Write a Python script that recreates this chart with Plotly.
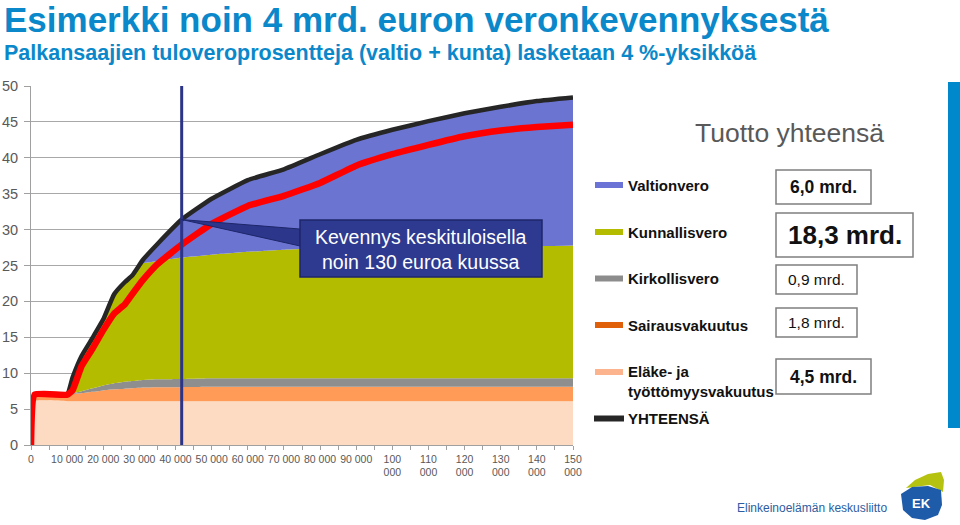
import numpy as np
import plotly.graph_objects as go

# Income (EUR / year) grid and tax components (% of income)
INCOME = [0, 1000, 10000, 11500, 14000, 17000, 20000, 23000, 26000, 28000, 31000, 35000, 41700,
          50000, 60000, 70000, 80000, 90000, 100000, 110000, 120000, 130000, 140000, 150000]
ELAKE = [0, 6.1, 6.1, 6.1, 6.1, 6.1, 6.1, 6.1, 6.1, 6.1, 6.1, 6.1, 6.1,
         6.1, 6.1, 6.1, 6.1, 6.1, 6.1, 6.1, 6.1, 6.1, 6.1, 6.1]
SAIRAUS = [0, 0.9, 0.9, 1.0, 1.1, 1.3, 1.5, 1.65, 1.75, 1.8, 1.9, 1.95, 1.95,
           2.0, 2.0, 2.0, 2.0, 2.0, 2.0, 2.0, 2.0, 2.0, 2.0, 2.0]
KIRKKO = [0, 0, 0, 0.1, 0.3, 0.5, 0.7, 0.85, 0.95, 1.0, 1.05, 1.1, 1.15,
          1.2, 1.2, 1.2, 1.2, 1.2, 1.2, 1.2, 1.2, 1.2, 1.2, 1.2]
KUNTA = [0, 0, 0, 2.2, 4.9, 7.0, 9.2, 12.4, 13.9, 14.7, 16.25, 16.45, 16.9,
         17.2, 17.6, 17.9, 18.1, 18.2, 18.3, 18.3, 18.4, 18.4, 18.4, 18.5]
VALTIO = [0, 0, 0, 0, 0, 0, 0, 0, 0, 0, 0.5, 2.4, 5.3,
          7.8, 10.0, 11.2, 13.1, 15.0, 16.3, 17.5, 18.5, 19.4, 20.2, 20.6]
# total after the 4 %-point cut (red line)
UUSI = [0, 7.0, 7.0, 7.6, 11.0, 13.4, 16.0, 18.3, 19.6, 21.0, 23.0, 25.2, 27.9,
        30.8, 33.3, 34.7, 36.5, 38.9, 40.5, 41.8, 43.0, 43.8, 44.3, 44.6]
KESKITULO = 41700

X_TICKS = [0, 10000, 20000, 30000, 40000, 50000, 60000, 70000, 80000, 90000,
           100000, 110000, 120000, 130000, 140000, 150000]
X_TICKTEXT = ['0', '10 000', '20 000', '30 000', '40 000', '50 000', '60 000', '70 000',
              '80 000', '90 000', '100<br>000', '110<br>000', '120<br>000', '130<br>000',
              '140<br>000', '150<br>000']

LEGEND = [
    ('Valtionvero', '#6B74D6', 185, '6,0 mrd.', True, 17.5, (776, 170, 871, 204)),
    ('Kunnallisvero', '#B4BC00', 232, '18,3 mrd.', True, 26, (776, 213, 913, 257)),
    ('Kirkollisvero', '#8C8C8C', 278.5, '0,9 mrd.', False, 15.5, (776, 265, 857, 294)),
    ('Sairausvakuutus', '#E0600A', 325, '1,8 mrd.', False, 15.5, (776, 308, 857, 337)),
    ('Eläke- ja<br>työttömyysvakuutus', '#FBB48E', 372, '4,5 mrd.', True, 17.5, (776, 359, 871, 394)),
]

FONT = 'Liberation Sans, Arial, sans-serif'
W, H = 960, 525
L, R, T, B = 31, 387, 86, 80
PW, PH = W - L - R, H - T - B
BLUE = '#0A88CA'
SMOOTH = 0.35


def pp(px, py):
    """pixel -> paper coords"""
    return (px - L) / PW, (H - B - py) / PH


def path(points):
    s = ''
    for i, (px, py) in enumerate(points):
        x, y = pp(px, py)
        s += ('M' if i == 0 else 'L') + f'{x:.4f},{y:.4f} '
    return s + 'Z'


layers = [
    ('Eläke- ja työttömyysvakuutus', ELAKE, '#FDDBC3'),
    ('Sairausvakuutus', SAIRAUS, '#FF9A57'),
    ('Kirkollisvero', KIRKKO, '#8E8E8E'),
    ('Kunnallisvero', KUNTA, '#B4BC00'),
    ('Valtionvero', VALTIO, '#6B75D1'),
]
total = np.sum([np.array(v) for _, v, _ in layers], axis=0)

fig = go.Figure()
for name, vals, col in layers:
    fig.add_trace(go.Scatter(x=INCOME, y=vals, name=name, stackgroup='vero', mode='lines',
                             line=dict(width=0, color=col, shape='spline', smoothing=SMOOTH),
                             fillcolor=col))
fig.add_trace(go.Scatter(x=INCOME, y=total, name='YHTEENSÄ', mode='lines',
                         line=dict(color='#262626', width=4.5, shape='spline', smoothing=SMOOTH)))
fig.add_trace(go.Scatter(x=INCOME, y=UUSI, name='uusi', mode='lines',
                         line=dict(color='#FF0000', width=6.5, shape='spline', smoothing=SMOOTH)))

shapes = []
annos = []

# average-income marker
shapes.append(dict(type='line', xref='x', yref='y', x0=KESKITULO, x1=KESKITULO, y0=0, y1=50,
                   line=dict(color='#2B3486', width=3)))

# callout
apex_y = float(np.interp(KESKITULO, INCOME, total))
bx0, by0, bx1, by1 = 300, 220, 542, 277
x0 = (bx0 - L) / PW * 150000
x1 = (bx1 - L) / PW * 150000
wy0 = (H - B - 229) / PH * 50
wy1 = (H - B - 246) / PH * 50
shapes.append(dict(type='path', xref='x', yref='y',
                   path=f'M{KESKITULO:.1f},{apex_y:.2f} L{x0:.1f},{wy0:.2f} L{x0:.1f},{wy1:.2f} Z',
                   fillcolor='#2C378C', line=dict(color='#1E2669', width=1)))
shapes.append(dict(type='rect', xref='x', yref='y', x0=x0, x1=x1,
                   y0=(H - B - by1) / PH * 50, y1=(H - B - by0) / PH * 50,
                   fillcolor='#2E3A8F', line=dict(color='#1E2669', width=1.5)))
annos.append(dict(x=(x0 + x1) / 2, y=(H - B - 249) / PH * 50, xref='x', yref='y',
                  text='Kevennys keskituloisella<br>noin 130 euroa kuussa', showarrow=False,
                  font=dict(family=FONT, size=19.5, color='white')))

# titles
ax, ay = pp(2, 20)
annos.append(dict(x=ax, y=ay, xref='paper', yref='paper', xanchor='left', yanchor='middle',
                  text='<b>Esimerkki noin 4 mrd. euron veronkevennyksestä</b>', showarrow=False,
                  font=dict(family=FONT, size=35, color=BLUE)))
ax, ay = pp(2, 53)
annos.append(dict(x=ax, y=ay, xref='paper', yref='paper', xanchor='left', yanchor='middle',
                  text='<b>Palkansaajien tuloveroprosentteja (valtio + kunta) lasketaan 4 %-yksikköä</b>',
                  showarrow=False, font=dict(family=FONT, size=21.5, color=BLUE)))
ax, ay = pp(789, 133)
annos.append(dict(x=ax, y=ay, xref='paper', yref='paper', xanchor='center', yanchor='middle',
                  text='Tuotto yhteensä', showarrow=False,
                  font=dict(family=FONT, size=26.5, color='#595959')))

# legend + totals
for label, col, yc, amount, bold, fs, box in LEGEND:
    sx0, sy0 = pp(595, yc - 3)
    sx1, sy1 = pp(623, yc + 3)
    shapes.append(dict(type='rect', xref='paper', yref='paper', x0=sx0, x1=sx1, y0=sy1, y1=sy0,
                       fillcolor=col, line=dict(width=0)))
    tyc = yc + 9 if '<br>' in label else yc
    tx, ty = pp(626, tyc)
    annos.append(dict(x=tx, y=ty, xref='paper', yref='paper', xanchor='left', yanchor='middle',
                      text=f'<b>{label}</b>', showarrow=False, align='left',
                      font=dict(family=FONT, size=15, color='#111111')))
    qx0, qy0 = pp(box[0], box[1])
    qx1, qy1 = pp(box[2], box[3])
    shapes.append(dict(type='rect', xref='paper', yref='paper', x0=qx0, x1=qx1, y0=qy1, y1=qy0,
                       fillcolor='white', line=dict(color='#7F7F7F', width=1.5)))
    txt = f'<b>{amount}</b>' if bold else amount
    cx, cy = pp((box[0] + box[2]) / 2, (box[1] + box[3]) / 2)
    annos.append(dict(x=cx, y=cy, xref='paper', yref='paper', xanchor='center', yanchor='middle',
                      text=txt, showarrow=False, font=dict(family=FONT, size=fs, color='#111111')))

lx0, ly = pp(594, 418.5)
lx1, _ = pp(624, 418.5)
shapes.append(dict(type='line', xref='paper', yref='paper', x0=lx0, x1=lx1, y0=ly, y1=ly,
                   line=dict(color='#262626', width=6)))
tx, ty = pp(626, 418.5)
annos.append(dict(x=tx, y=ty, xref='paper', yref='paper', xanchor='left', yanchor='middle',
                  text='<b>YHTEENSÄ</b>', showarrow=False,
                  font=dict(family=FONT, size=15, color='#111111')))

# blue bar on the right edge
rx0, ry0 = pp(948, 82)
rx1, ry1 = pp(960, 428)
shapes.append(dict(type='rect', xref='paper', yref='paper', x0=rx0, x1=rx1, y0=ry1, y1=ry0,
                   fillcolor='#0088CC', line=dict(width=0)))

# EK logo
shapes.append(dict(type='path', xref='paper', yref='paper', fillcolor='#B5C20F', line=dict(width=0),
                   path=path([(906, 488), (915, 480), (928, 474), (941, 472), (944, 480), (943, 492),
                              (930, 485)])))
shapes.append(dict(type='path', xref='paper', yref='paper', fillcolor='#1E5BA8', line=dict(width=0),
                   path=path([(901, 494), (912, 487), (928, 486), (941, 490), (942, 505), (938, 515),
                              (925, 520), (912, 518), (903, 510)])))
ex, ey = pp(921, 503)
annos.append(dict(x=ex, y=ey, xref='paper', yref='paper', xanchor='center', yanchor='middle',
                  text='<b>EK</b>', showarrow=False, font=dict(family=FONT, size=13, color='white')))
ex, ey = pp(889, 508)
annos.append(dict(x=ex, y=ey, xref='paper', yref='paper', xanchor='right', yanchor='middle',
                  text='Elinkeinoelämän keskusliitto', showarrow=False,
                  font=dict(family=FONT, size=12, color='#2D5DA1')))

fig.update_layout(
    width=W, height=H, margin=dict(l=L, r=R, t=T, b=B),
    paper_bgcolor='white', plot_bgcolor='white', showlegend=False,
    font=dict(family=FONT, color='#595959'),
    shapes=shapes, annotations=annos,
    xaxis=dict(range=[0, 150000], tickvals=X_TICKS, ticktext=X_TICKTEXT, showgrid=False,
               automargin=False, ticks='outside', ticklen=4, tickcolor='#A0A0A0',
               showline=True, linecolor='#A0A0A0',
               tickfont=dict(size=10.5, color='#595959'), tickangle=0, zeroline=False,
               minor=dict(dtick=5000, tick0=0, ticks='outside', ticklen=4, tickcolor='#A0A0A0')),
    yaxis=dict(range=[0, 50], dtick=5, showgrid=True, gridcolor='#A8A8A8', gridwidth=1,
               automargin=False, ticks='outside', ticklen=6, tickcolor='#A0A0A0',
               showline=True, linecolor='#A0A0A0', ticklabelstandoff=3,
               tickfont=dict(size=14.5, color='#595959'), zeroline=False),
)

# page body has a default 8px margin; drop it so the figure fills the window
fig.write_html('out.html', config={'displayModeBar': False},
               post_script="document.body.style.margin='0';")
